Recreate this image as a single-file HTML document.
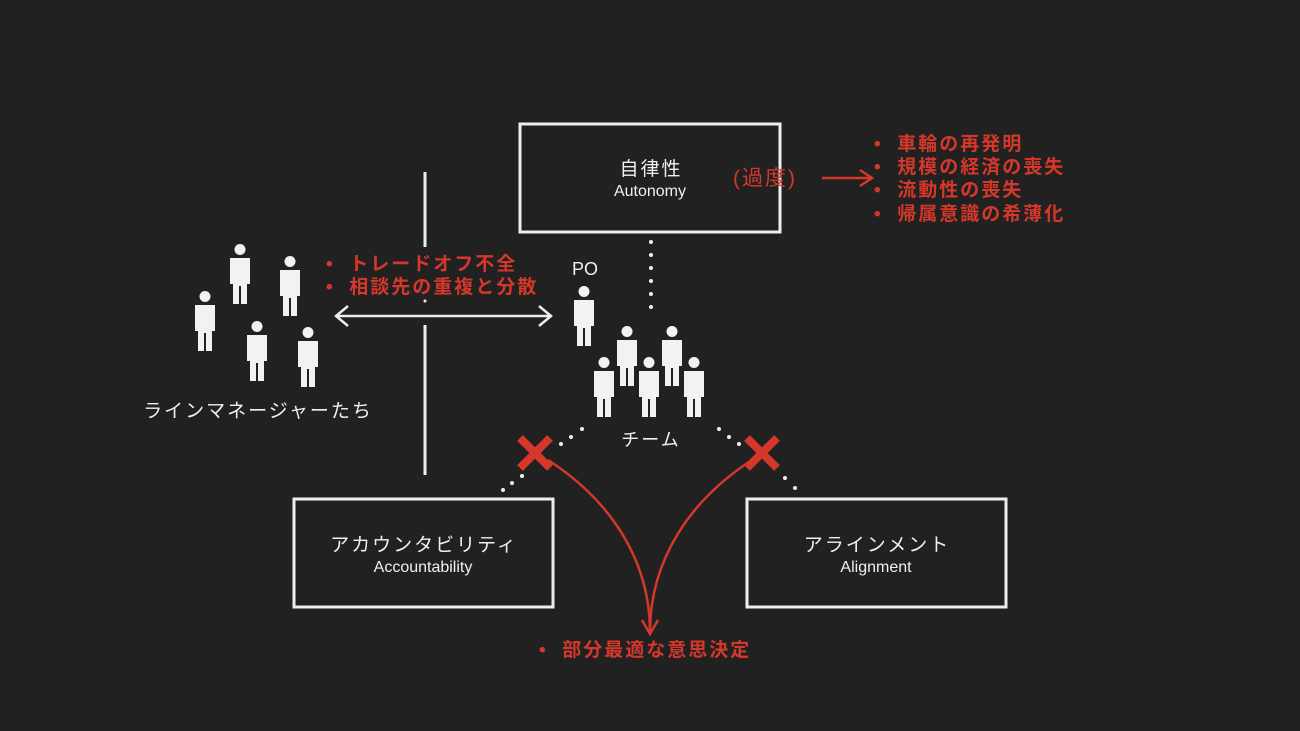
<!DOCTYPE html>
<html><head><meta charset="utf-8"><style>
body{margin:0;background:#212121;width:1300px;height:731px;overflow:hidden}
svg{display:block}
text{font-family:"Liberation Sans","Noto Sans CJK JP",sans-serif}
.w{fill:#f0f0f0}.r{fill:#d5382a}
</style></head><body>
<svg width="1300" height="731" viewBox="0 0 1300 731">
<defs>
<g id="p"><circle cx="0" cy="5.5" r="5.5" fill="#f2f2f2"/><path d="M-10 14h20v26h-3v20h-6v-18h-2v18h-6v-20h-3z" fill="#f2f2f2"/></g>
</defs>
<g fill="none" stroke="#eee" stroke-width="3">
<rect x="520" y="124" width="260" height="108"/>
<rect x="294" y="499" width="259" height="108"/>
<rect x="747" y="499" width="259" height="108"/>
<path d="M425 172V247M425 325V475"/>
<path d="M336 316H551M348 306L336 316L348 326M539 306L551 316L539 326" stroke-width="2.5"/>
</g>
<g fill="#eee">
<circle cx="425" cy="301" r="1.5"/>
<circle cx="651" cy="242" r="2"/><circle cx="651" cy="255" r="2"/><circle cx="651" cy="268" r="2"/><circle cx="651" cy="281" r="2"/><circle cx="651" cy="294" r="2"/><circle cx="651" cy="307" r="2"/>
<circle cx="582" cy="429" r="2"/><circle cx="571" cy="437" r="2"/><circle cx="561" cy="444" r="2"/><circle cx="512" cy="483" r="2"/><circle cx="503" cy="490" r="2"/><circle cx="522" cy="476" r="2"/>
<circle cx="719" cy="429" r="2"/><circle cx="729" cy="437" r="2"/><circle cx="739" cy="444" r="2"/><circle cx="785" cy="478" r="2"/><circle cx="795" cy="488" r="2"/>
</g>
<use href="#p" x="240" y="244"/><use href="#p" x="290" y="256"/><use href="#p" x="205" y="291"/><use href="#p" x="257" y="321"/><use href="#p" x="308" y="327"/>
<use href="#p" x="584" y="286"/>
<use href="#p" x="627" y="326"/><use href="#p" x="672" y="326"/><use href="#p" x="604" y="357"/><use href="#p" x="649" y="357"/><use href="#p" x="694" y="357"/>
<g stroke="#d5382a" fill="none">
<path d="M520 438L550 468M550 438L520 468M747 438L777 468M777 438L747 468" stroke-width="8"/>
<path d="M548 460C610 500 650 560 650 632M752 460C690 500 650 560 650 632" stroke-width="2.5"/>
<path d="M642 620L650 634L658 620" stroke-width="2.5"/>
<path d="M822 178H870M860 170L872 178L860 186" stroke-width="2.5"/>
</g>
<g class="w" text-anchor="middle" letter-spacing="2">
<text x="651" y="175" font-size="19">自律性</text>
<text x="650" y="196" font-size="16" letter-spacing="0">Autonomy</text>
<text x="424" y="551" font-size="19">アカウンタビリティ</text>
<text x="423" y="572" font-size="16" letter-spacing="0">Accountability</text>
<text x="877" y="551" font-size="19">アラインメント</text>
<text x="876" y="572" font-size="16" letter-spacing="0">Alignment</text>
<text x="585" y="275" font-size="18" letter-spacing="0">PO</text>
<text x="651" y="446" font-size="18">チーム</text>
<text x="258" y="417" font-size="19">ラインマネージャーたち</text>
</g>
<g class="r" font-size="19" font-weight="bold" letter-spacing="2">
<text x="733" y="185" font-size="21" font-weight="normal">(過度)</text>
<text x="874" y="150">•&#160;&#160;車輪の再発明</text>
<text x="874" y="173">•&#160;&#160;規模の経済の喪失</text>
<text x="874" y="196">•&#160;&#160;流動性の喪失</text>
<text x="874" y="220">•&#160;&#160;帰属意識の希薄化</text>
<text x="326" y="270">•&#160;&#160;トレードオフ不全</text>
<text x="326" y="293">•&#160;&#160;相談先の重複と分散</text>
<text x="539" y="656">•&#160;&#160;部分最適な意思決定</text>
</g>
</svg>
</body></html>
